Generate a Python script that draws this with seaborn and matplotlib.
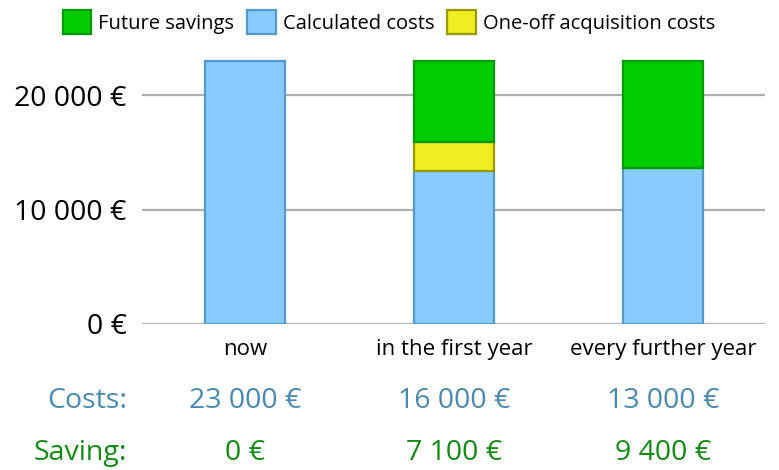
import pandas as pd
import matplotlib.pyplot as plt
import matplotlib.transforms as mtransforms
from matplotlib.patches import Patch
import seaborn as sns

# data
periods = ["now", "in the first year", "every further year"]
calculated_costs = [23000, 13400, 13600]
acquisition_costs = [0, 2500, 0]
future_savings = [0, 7100, 9400]
costs_labels = ["23 000 €", "16 000 €", "13 000 €"]
saving_labels = ["0 €", "7 100 €", "9 400 €"]
y_ticks = [0, 10000, 20000]
y_tick_labels = ["0 €", "10 000 €", "20 000 €"]

BLUE, BLUE_EDGE = "#88ccff", "#5599cc"
YELLOW, YELLOW_EDGE = "#eeee22", "#999900"
GREEN, GREEN_EDGE = "#00cc00", "#009900"
COSTS_COLOR = "#4a8ab0"
SAVING_COLOR = "#148a14"

sns.set_style("white")
plt.rcParams["font.family"] = ["Open Sans", "DejaVu Sans"]
plt.rcParams["text.color"] = "black"

W, H = 779, 470
fig = plt.figure(figsize=(W / 100, H / 100), dpi=100)
# axes box in pixels: left 142, right 765, bottom (y=0) at 324
ax = fig.add_axes([142 / W, 1 - 324 / H, (765 - 142) / W, (324 - 40) / H])

df = pd.DataFrame({
    "period": periods,
    "calc": calculated_costs,
    "acq": acquisition_costs,
    "save": future_savings,
})

layers = [
    ("calc", None, BLUE, BLUE_EDGE),
    ("acq", ["calc"], YELLOW, YELLOW_EDGE),
    ("save", ["calc", "acq"], GREEN, GREEN_EDGE),
]
for col, below, color, edge in layers:
    sub = df[df[col] > 0]
    bottom = sub[below].sum(axis=1).values if below else 0
    sns.barplot(
        data=sub, x="period", y=col, order=periods,
        bottom=bottom, width=0.38, color=color,
        edgecolor=edge, linewidth=1.6, saturation=1,
        ax=ax, zorder=3,
    )

# y scale: 0 -> 324px, 20000 -> 95px  (0.01145 px per €)
ax.set_ylim(0, (324 - 40) / 0.01145)
ax.set_xlim(-0.493, -0.493 + (765 - 142) / 209)

ax.set_yticks(y_ticks)
ax.set_yticklabels(y_tick_labels, fontsize=20.5)
ax.yaxis.grid(True, color="#b0b0b0", linewidth=1.6, zorder=0)
ax.xaxis.grid(False)
ax.tick_params(axis="y", length=0, pad=11, labelcolor="black")
ax.tick_params(axis="x", length=0, pad=10.5, labelsize=16, labelcolor="black")
ax.set_xlabel("")
ax.set_ylabel("")
sns.despine(ax=ax, left=True, bottom=True)

# summary rows under the chart
trans = mtransforms.blended_transform_factory(ax.transData, fig.transFigure)
for i, (c, s) in enumerate(zip(costs_labels, saving_labels)):
    ax.text(i, 1 - 401 / H, c, transform=trans, ha="center", va="center",
            fontsize=20.5, color=COSTS_COLOR)
    ax.text(i, 1 - 453 / H, s, transform=trans, ha="center", va="center",
            fontsize=20.5, color=SAVING_COLOR)
fig.text(127 / W, 1 - 401 / H, "Costs:", ha="right", va="center",
         fontsize=20.5, color=COSTS_COLOR)
fig.text(127 / W, 1 - 453 / H, "Saving:", ha="right", va="center",
         fontsize=20.5, color=SAVING_COLOR)

handles = [
    Patch(facecolor=GREEN, edgecolor=GREEN_EDGE, linewidth=1.6, label="Future savings"),
    Patch(facecolor=BLUE, edgecolor=BLUE_EDGE, linewidth=1.6, label="Calculated costs"),
    Patch(facecolor=YELLOW, edgecolor=YELLOW_EDGE, linewidth=1.6, label="One-off acquisition costs"),
]
fig.legend(handles=handles, loc="center", bbox_to_anchor=(389 / W, 1 - 22 / H),
           ncol=3, frameon=False, fontsize=14.5, handlelength=1.4, handleheight=1.4,
           handletextpad=0.35, columnspacing=0.65)

fig.savefig("out.png", dpi=100)
